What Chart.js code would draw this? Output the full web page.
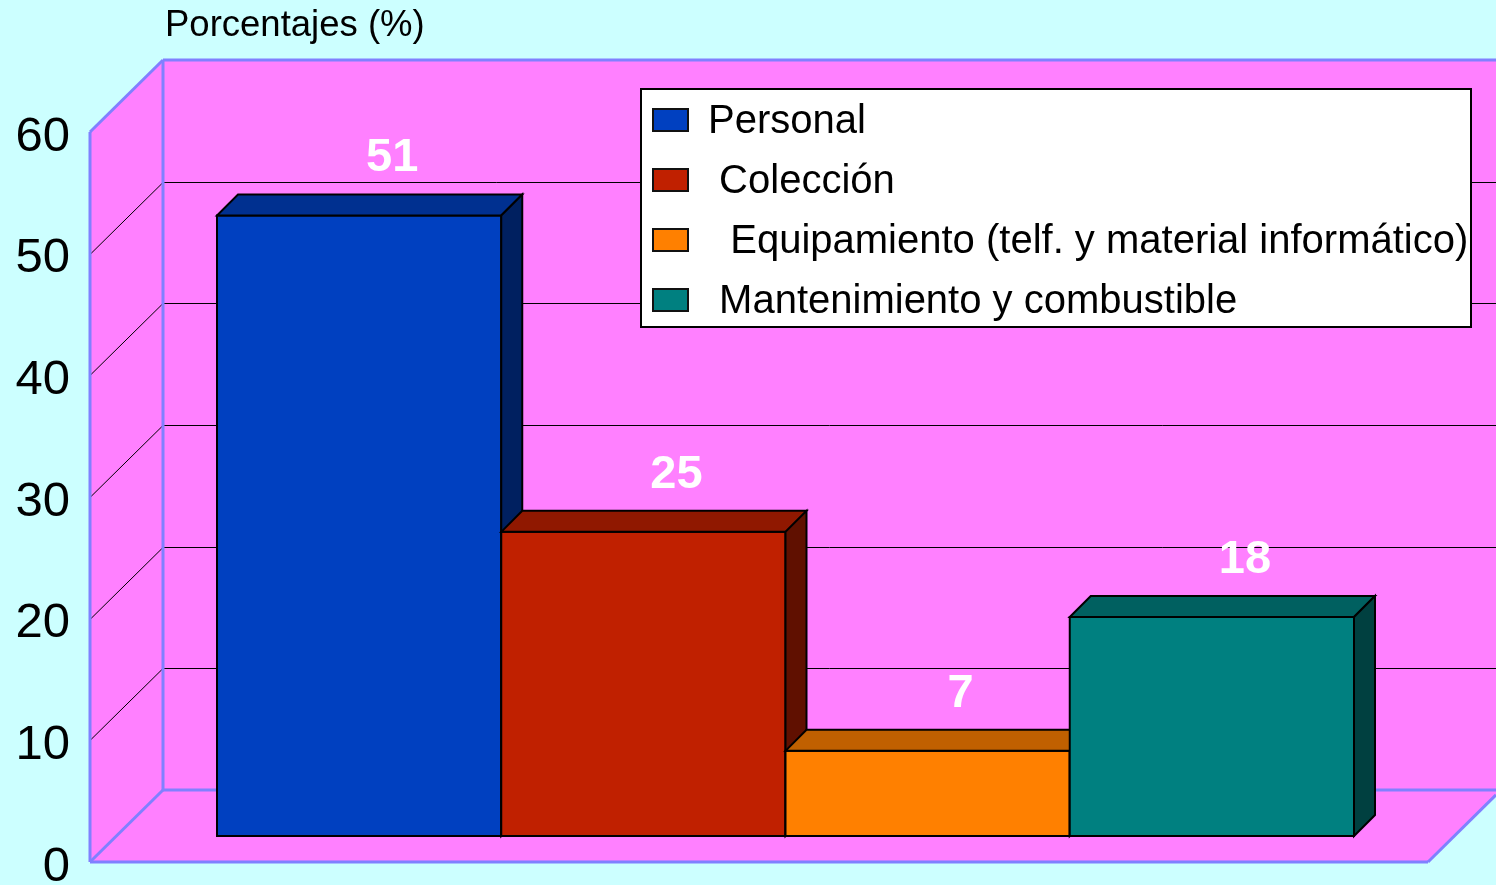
<!DOCTYPE html>
<html>
<head>
<meta charset="utf-8">
<script src="https://cdn.jsdelivr.net/npm/chart.js@4/dist/chart.umd.min.js"></script>
<style>
  html, body { margin: 0; padding: 0; background: #ccffff; }
  #wrap { width: 1496px; height: 885px; position: relative; }
</style>
</head>
<body>
<div id="wrap"><canvas id="c"></canvas></div>
<script>
// ── Data ──────────────────────────────────────────────────────────────────────
const seriesLabels = ['Personal', ' Colección', '  Equipamiento (telf. y material informático)', ' Mantenimiento y combustible'];
const seriesValues = [51, 25, 7, 18];
const yTicks = [0, 10, 20, 30, 40, 50, 60];
const yTitle = 'Porcentajes (%)';

// ── Styles ────────────────────────────────────────────────────────────────────
const FRONT = ['#0040c0', '#c02000', '#ff8000', '#008080'];
const TOP   = ['#003090', '#901800', '#c06000', '#006060'];
const SIDE  = ['#002060', '#601000', '#804000', '#004040'];
const WALL = '#ff80ff';
const EDGE = '#8080ff';
const FONT = '"Liberation Sans", Arial, sans-serif';

// 3D offsets relative to the bar front plane
const FRONT_DX = -26, FRONT_DY = 26;   // front (axis) plane
const BACK_DX = 47, BACK_DY = -46;     // back wall plane
const BAR_D = 21;                      // bar depth

const scene3d = {
  id: 'scene3d',
  beforeDatasetsDraw(chart) {
    const { ctx, chartArea: a, scales: { y } } = chart;
    const W = chart.width;
    const xf = a.left - 127;             // front axis x
    const xb = xf + (BACK_DX - FRONT_DX); // back wall left x
    const yF = v => y.getPixelForValue(v) + FRONT_DY;
    const yB = v => y.getPixelForValue(v) + BACK_DY;
    const top = yTicks[yTicks.length - 1];
    const floorRight = a.right + 74;
    const depth = BACK_DX - FRONT_DX;
    const slopeY = (yF(0) - yB(0)) / depth;
    const rightY = yF(0) - (W - floorRight) * slopeY;

    ctx.save();
    ctx.fillStyle = WALL;
    // side wall
    ctx.beginPath();
    ctx.moveTo(xf, yF(top)); ctx.lineTo(xb, yB(top)); ctx.lineTo(xb, yB(0)); ctx.lineTo(xf, yF(0));
    ctx.closePath(); ctx.fill();
    // back wall
    ctx.fillRect(xb, yB(top), W - xb, yB(0) - yB(top));
    // floor
    ctx.beginPath();
    ctx.moveTo(xf, yF(0)); ctx.lineTo(xb, yB(0)); ctx.lineTo(W, yB(0)); ctx.lineTo(W, rightY); ctx.lineTo(floorRight, yF(0));
    ctx.closePath(); ctx.fill();

    // gridlines
    ctx.strokeStyle = '#000'; ctx.lineWidth = 1;
    yTicks.slice(1, -1).forEach(v => {
      const yy = Math.round(yB(v)) + 0.5;
      ctx.beginPath();
      ctx.moveTo(xf, Math.round(yF(v)) + 0.5); ctx.lineTo(xb, yy); ctx.lineTo(W, yy);
      ctx.stroke();
    });

    // edges
    ctx.strokeStyle = EDGE; ctx.lineWidth = 3;
    const seg = (x1, y1, x2, y2) => { ctx.beginPath(); ctx.moveTo(x1, y1); ctx.lineTo(x2, y2); ctx.stroke(); };
    seg(xf, yF(top), xf, yF(0));
    seg(xf, yF(top), xb, yB(top));
    seg(xb, yB(top), xb, yB(0));
    seg(xb, yB(top), W, yB(top));
    seg(xb, yB(0), W, yB(0));
    seg(xf, yF(0), xb, yB(0));
    seg(xf, yF(0), floorRight, yF(0));
    seg(floorRight, yF(0), W, rightY);

    // tick labels
    ctx.fillStyle = '#000';
    ctx.font = '49px ' + FONT;
    ctx.textAlign = 'right'; ctx.textBaseline = 'middle';
    yTicks.forEach(v => ctx.fillText(String(v), xf - 20, yF(v) + 5));

    // axis title
    ctx.font = '36.5px ' + FONT;
    ctx.textAlign = 'left';
    ctx.fillText(yTitle, 165, 26);
    ctx.restore();
  },
  afterDatasetsDraw(chart) {
    const { ctx } = chart;
    ctx.save();
    ctx.lineWidth = 2; ctx.strokeStyle = '#000'; ctx.lineJoin = 'miter';
    chart.data.datasets.forEach((ds, i) => {
      const el = chart.getDatasetMeta(i).data[0];
      const { x, y, base, width } = el.getProps(['x', 'y', 'base', 'width'], true);
      const x0 = x - width / 2, x1 = x + width / 2;
      // front
      ctx.fillStyle = FRONT[i];
      ctx.fillRect(x0, y, width, base - y);
      ctx.strokeRect(x0, y, width, base - y);
      // top
      ctx.fillStyle = TOP[i];
      ctx.beginPath();
      ctx.moveTo(x0, y); ctx.lineTo(x0 + BAR_D, y - BAR_D); ctx.lineTo(x1 + BAR_D, y - BAR_D); ctx.lineTo(x1, y);
      ctx.closePath(); ctx.fill(); ctx.stroke();
      // side
      ctx.fillStyle = SIDE[i];
      ctx.beginPath();
      ctx.moveTo(x1, y); ctx.lineTo(x1 + BAR_D, y - BAR_D); ctx.lineTo(x1 + BAR_D, base - BAR_D); ctx.lineTo(x1, base);
      ctx.closePath(); ctx.fill(); ctx.stroke();
    });
    // value labels
    ctx.fillStyle = '#fff';
    ctx.font = 'bold 47px ' + FONT;
    ctx.textAlign = 'center'; ctx.textBaseline = 'middle';
    chart.data.datasets.forEach((ds, i) => {
      const el = chart.getDatasetMeta(i).data[0];
      ctx.fillText(String(ds.data[0]), el.x + 33, el.y - 57);
    });
    ctx.restore();
  },
  afterDraw(chart) {
    const { ctx } = chart;
    ctx.save();
    const lx = 641, ly = 89, lw = 830, lh = 238;
    ctx.fillStyle = '#fff';
    ctx.fillRect(lx, ly, lw, lh);
    ctx.strokeStyle = '#000'; ctx.lineWidth = 2;
    ctx.strokeRect(lx, ly, lw, lh);
    ctx.font = '40px ' + FONT;
    ctx.textAlign = 'left'; ctx.textBaseline = 'middle';
    chart.data.datasets.forEach((ds, i) => {
      const cy = 120 + i * 60;
      ctx.fillStyle = FRONT[i];
      ctx.fillRect(653, cy - 11, 35, 22);
      ctx.strokeStyle = '#111'; ctx.lineWidth = 2;
      ctx.strokeRect(653, cy - 11, 35, 22);
      ctx.fillStyle = '#000';
      ctx.fillText(ds.label, 708, cy + 2);
    });
    ctx.restore();
  }
};

new Chart(document.getElementById('c'), {
  type: 'bar',
  data: {
    labels: [''],
    datasets: seriesLabels.map((label, i) => ({
      label,
      data: [seriesValues[i]],
      backgroundColor: FRONT[i],
      borderColor: '#000',
      borderWidth: 2,
      categoryPercentage: 1,
      barPercentage: 1,
    })),
  },
  options: {
    responsive: true,
    maintainAspectRatio: false,
    animation: false,
    layout: { padding: { left: 217, right: 142, top: 106, bottom: 49 } },
    plugins: { legend: { display: false }, tooltip: { enabled: false } },
    scales: {
      x: { display: false },
      y: { display: false, min: 0, max: 60 },
    },
  },
  plugins: [scene3d],
});
</script>
</body>
</html>
